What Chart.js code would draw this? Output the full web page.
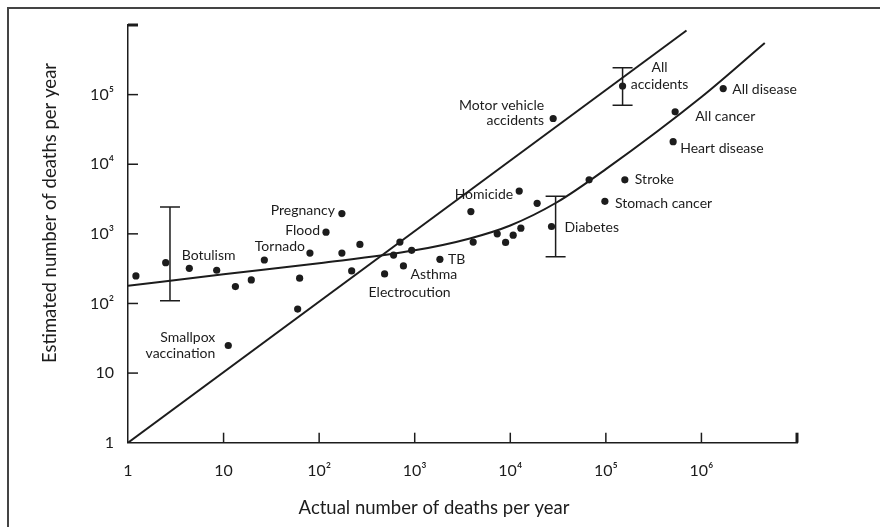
<!DOCTYPE html>
<html lang="en">
<head>
<meta charset="utf-8">
<title>Estimated vs. actual number of deaths per year</title>
<script src="https://cdn.jsdelivr.net/npm/chart.js"></script>
<style>
  body { margin: 0; background: #fff; }
</style>
</head>
<body>
<canvas id="chart" width="880" height="527"></canvas>
<script>
// one entry per hazard: actual deaths, estimated deaths, name (blank = unlabelled dot)
const actualDeaths = [1.21, 2.48, 4.38, 8.47, 13.3, 19.5, 26.7, 11.2, 59.6, 62.5,
  80.1, 118, 173, 173, 219, 267, 484, 601, 700, 762,
  929, 1835, 3870, 4090, 7300, 8930, 10720, 12900, 12400, 19100,
  27000, 28100, 66800, 97700, 149600, 158000, 506000, 531000, 1690000];
const estimatedDeaths = [249, 385, 320, 300, 175, 218, 421, 24.9, 83.2, 231,
  530, 1057, 1955, 530, 293, 706, 266, 496, 761, 346,
  579, 431, 2090, 761, 1000, 753, 958, 1206, 4110, 2745,
  1276, 45400, 5980, 2930, 133000, 5980, 21100, 56600, 122000];
const hazardNames = ['', 'Botulism', '', '', '', '', '', 'Smallpox vaccination', '', '',
  'Tornado', 'Flood', 'Pregnancy', '', '', '', 'Electrocution', '', '', 'Asthma',
  '', 'TB', '', '', '', '', '', '', 'Homicide', '',
  'Diabetes', 'Motor vehicle accidents', '', 'Stomach cancer', 'All accidents', 'Stroke', 'Heart disease', 'All cancer', 'All disease'];

// fitted curve through the estimates
const curveActual = [1, 10, 100, 1000, 3780, 10000, 30500, 100000, 1000000, 4600000];
const curveEstimated = [179, 262, 379, 580, 860, 1320, 2820, 8500, 92600, 553000];

// line of perfect estimates
const perfectActual = [1, 698000];
const perfectEstimated = [1, 832000];

// range bars
const rangeActual = [2.75, 29800, 149600];
const rangeLow = [109, 469, 70600];
const rangeHigh = [2430, 3460, 243000];

const xTicks = [1, 10, 100, 1e3, 1e4, 1e5, 1e6, 1e7];
const xTickLabels = ['1', '10', '10²', '10³', '10⁴', '10⁵', '10⁶', ''];
const yTicks = [1, 10, 100, 1e3, 1e4, 1e5, 1e6];
const yTickLabels = ['1', '10', '10²', '10³', '10⁴', '10⁵', ''];

const ink = '#1c1c1c';
const face = 'Lato';

// where each name sits next to its dot
const labelPlace = {
  'Botulism': { dx: 16, dy: -7, align: 'left' },
  'Smallpox vaccination': { dx: -13, dy: -8, align: 'right', lines: ['Smallpox', 'vaccination'], step: 16 },
  'Tornado': { dx: -5, dy: -7, align: 'right' },
  'Flood': { dx: -6, dy: -2, align: 'right' },
  'Pregnancy': { dx: -7, dy: -3, align: 'right' },
  'Electrocution': { dx: -16, dy: 19, align: 'left' },
  'Asthma': { dx: 7, dy: 9, align: 'left' },
  'TB': { dx: 8, dy: 0, align: 'left' },
  'Homicide': { dx: -6, dy: 3, align: 'right' },
  'Diabetes': { dx: 13, dy: 1, align: 'left' },
  'Motor vehicle accidents': { dx: -9, dy: -13, align: 'right', lines: ['Motor vehicle', 'accidents'], step: 15 },
  'Stomach cancer': { dx: 10, dy: 2, align: 'left' },
  'All accidents': { dx: 37, dy: -19, align: 'center', lines: ['All', 'accidents'], step: 17 },
  'Stroke': { dx: 10, dy: 0, align: 'left' },
  'Heart disease': { dx: 7, dy: 7, align: 'left' },
  'All cancer': { dx: 20, dy: 5, align: 'left' },
  'All disease': { dx: 9, dy: 1, align: 'left' }
};

const extras = {
  id: 'extras',
  beforeDraw(chart) {
    const ctx = chart.ctx;
    ctx.save();
    ctx.strokeStyle = '#444';
    ctx.lineWidth = 2;
    ctx.beginPath();
    ctx.moveTo(8, chart.height);
    ctx.lineTo(8, 8);
    ctx.lineTo(chart.width, 8);
    ctx.stroke();
    ctx.restore();
  },
  afterDraw(chart) {
    const { ctx, scales: { x, y } } = chart;
    ctx.save();
    ctx.strokeStyle = ink;
    ctx.fillStyle = ink;

    // tick marks point into the plot
    xTicks.forEach((v, i) => {
      if (i === 0) return;
      const px = x.getPixelForValue(v);
      ctx.lineWidth = i === xTicks.length - 1 ? 3 : 1.5;
      ctx.beginPath();
      ctx.moveTo(px, y.bottom);
      ctx.lineTo(px, y.bottom - 10);
      ctx.stroke();
    });
    yTicks.forEach((v, i) => {
      if (i === 0) return;
      const py = y.getPixelForValue(v);
      ctx.lineWidth = i === yTicks.length - 1 ? 3 : 1.5;
      ctx.beginPath();
      ctx.moveTo(x.left, py);
      ctx.lineTo(x.left + 10, py);
      ctx.stroke();
    });

    // range bars
    ctx.lineWidth = 1.5;
    rangeActual.forEach((v, i) => {
      const px = x.getPixelForValue(v);
      const top = y.getPixelForValue(rangeHigh[i]);
      const bot = y.getPixelForValue(rangeLow[i]);
      ctx.beginPath();
      ctx.moveTo(px, top); ctx.lineTo(px, bot);
      ctx.moveTo(px - 10, top); ctx.lineTo(px + 10, top);
      ctx.moveTo(px - 10, bot); ctx.lineTo(px + 10, bot);
      ctx.stroke();
    });

    // hazard names
    ctx.font = '14px ' + face;
    ctx.textBaseline = 'middle';
    hazardNames.forEach((name, i) => {
      if (!name) return;
      const p = labelPlace[name];
      const px = x.getPixelForValue(actualDeaths[i]) + p.dx;
      let py = y.getPixelForValue(estimatedDeaths[i]) + p.dy;
      ctx.textAlign = p.align;
      (p.lines || [name]).forEach(line => {
        ctx.fillText(line, px, py);
        py += p.step || 0;
      });
    });

    // axis titles
    ctx.font = '18.5px ' + face;
    ctx.textAlign = 'center';
    ctx.fillText('Actual number of deaths per year', 434, 508);
    ctx.translate(50, 213);
    ctx.rotate(-Math.PI / 2);
    ctx.fillText('Estimated number of deaths per year', 0, 0);
    ctx.restore();
  }
};

const pairs = (xs, ys) => xs.map((v, i) => ({ x: v, y: ys[i] }));

new Chart(document.getElementById('chart'), {
  type: 'scatter',
  data: {
    datasets: [
      {
        data: pairs(actualDeaths, estimatedDeaths),
        pointRadius: 3.6,
        pointBackgroundColor: ink,
        pointBorderWidth: 0
      },
      {
        type: 'line',
        data: pairs(perfectActual, perfectEstimated),
        borderColor: ink,
        borderWidth: 2,
        pointRadius: 0
      },
      {
        type: 'line',
        data: pairs(curveActual, curveEstimated),
        borderColor: ink,
        borderWidth: 2,
        pointRadius: 0,
        cubicInterpolationMode: 'monotone'
      }
    ]
  },
  options: {
    responsive: false,
    animation: false,
    layout: { padding: { top: 25, right: 83, left: 0, bottom: 0 } },
    plugins: { legend: { display: false }, tooltip: { enabled: false } },
    scales: {
      x: {
        type: 'logarithmic',
        min: 1,
        max: 1e7,
        grid: { display: false, drawTicks: false },
        border: { display: true, color: ink, width: 1.5 },
        afterFit: s => { s.height = 84.3; },
        afterBuildTicks: s => { s.ticks = xTicks.map(v => ({ value: v })); },
        ticks: {
          autoSkip: false,
          maxRotation: 0,
          padding: 19,
          color: ink,
          font: { family: face, size: 16 },
          callback: (v, i) => xTickLabels[i]
        }
      },
      y: {
        type: 'logarithmic',
        min: 1,
        max: 1e6,
        grid: { display: false, drawTicks: false },
        border: { display: true, color: ink, width: 1.5 },
        afterFit: s => { s.width = 128; },
        afterBuildTicks: s => { s.ticks = yTicks.map(v => ({ value: v })); },
        ticks: {
          autoSkip: false,
          padding: 14,
          color: ink,
          font: { family: face, size: 16 },
          callback: (v, i) => yTickLabels[i]
        }
      }
    }
  },
  plugins: [extras]
});
</script>
</body>
</html>
